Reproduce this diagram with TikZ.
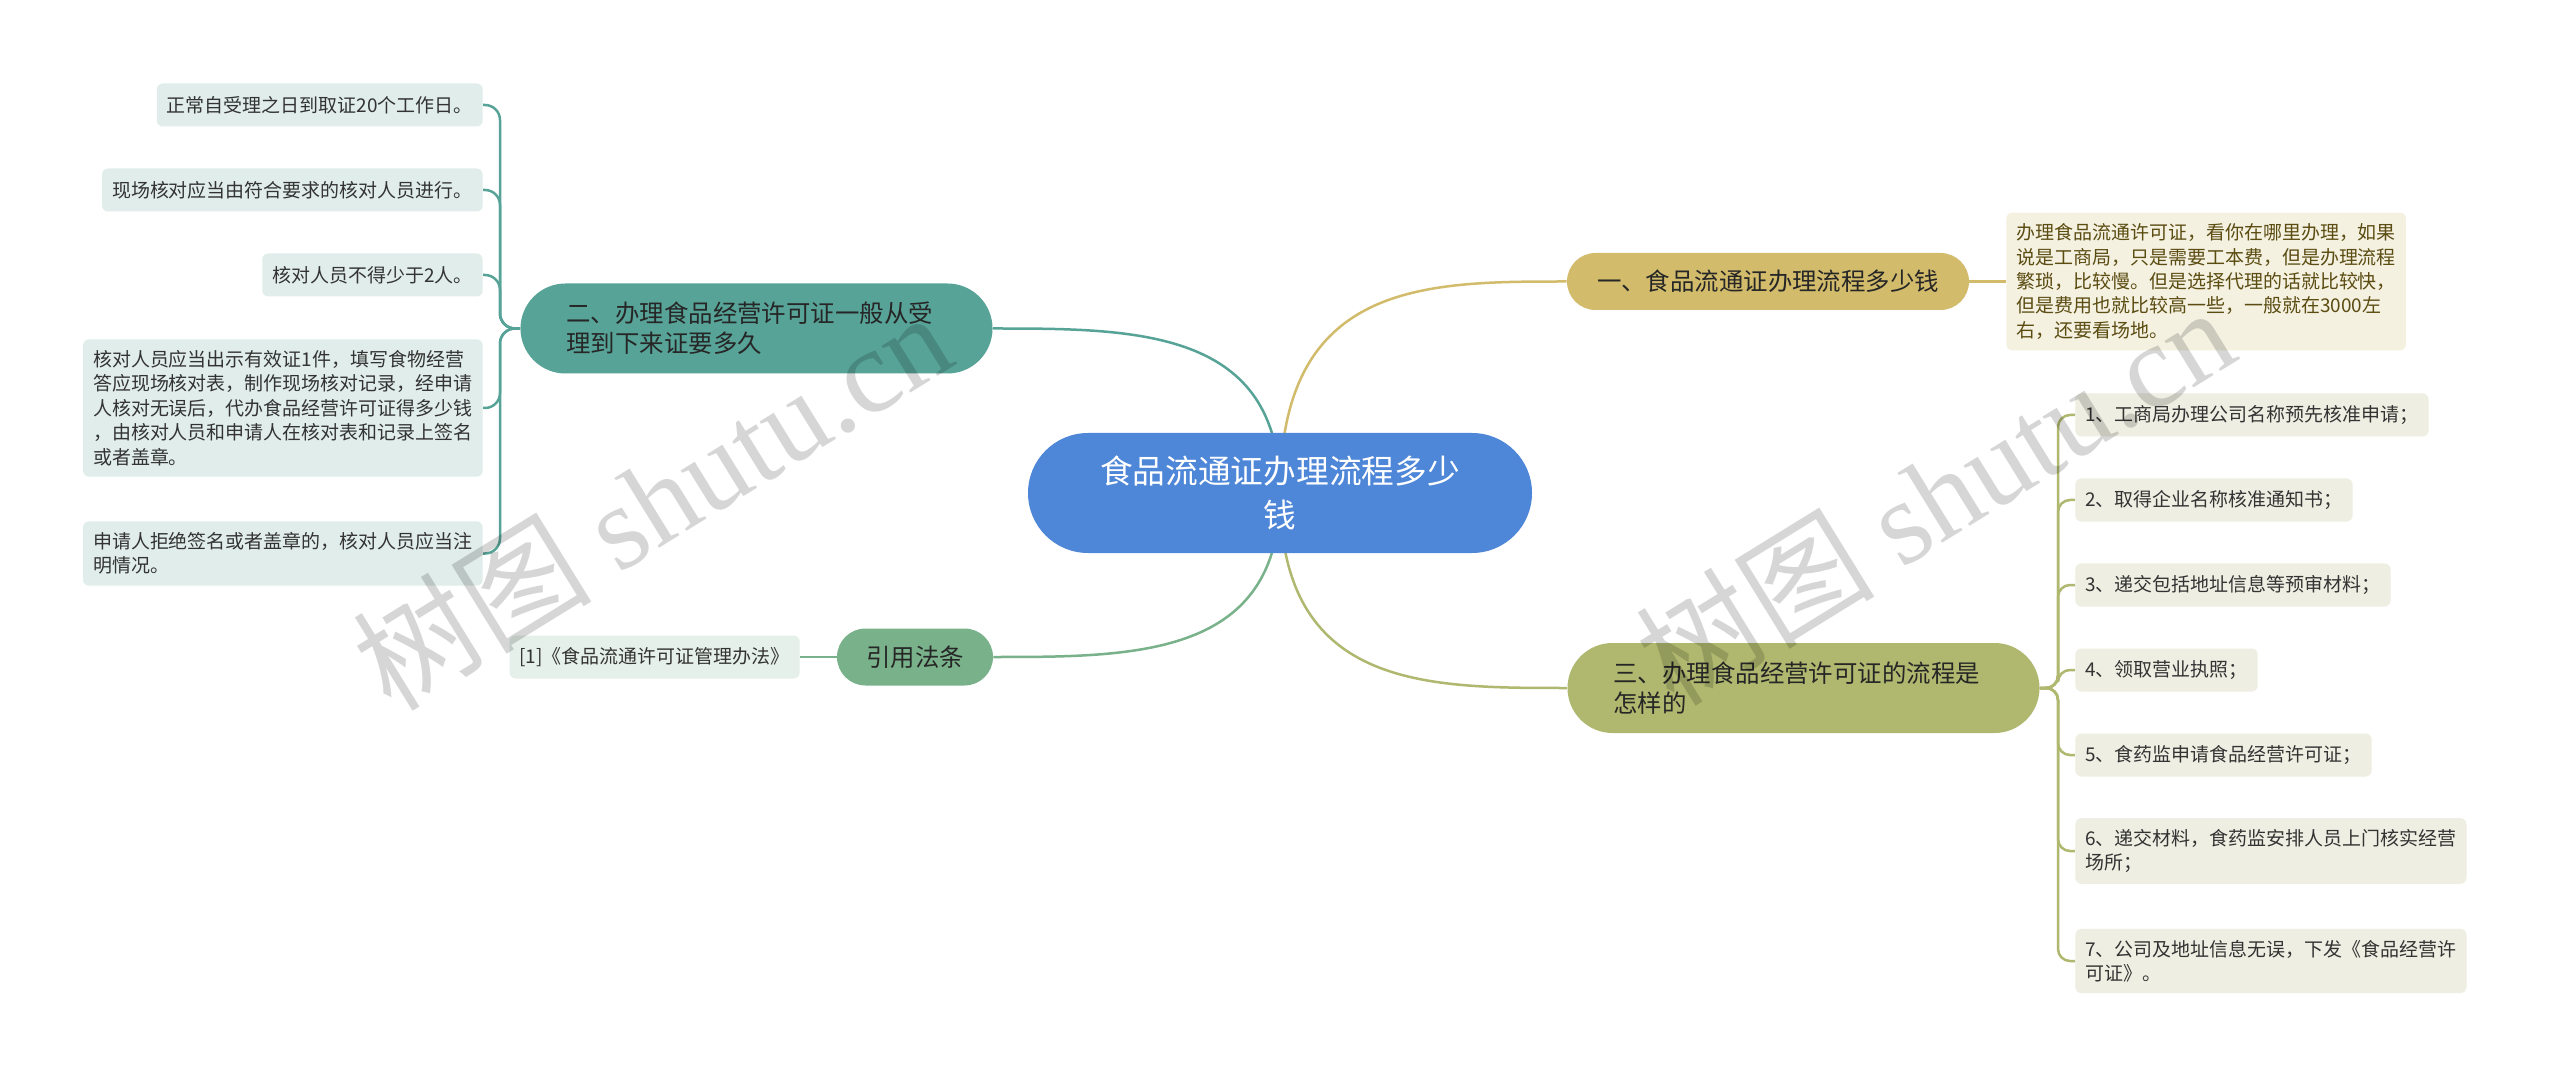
\documentclass[tikz,border=0pt]{standalone}
\usepackage{fontspec}
\setmainfont{Noto Sans CJK SC}
\newfontfamily\wmfont{Liberation Serif}
\usepackage{xcolor}
\usetikzlibrary{calc,backgrounds}

\definecolor{hubblue}{HTML}{4E86D8}
\definecolor{goldtopic}{HTML}{D2BC6C}
\definecolor{tealtopic}{HTML}{57A397}
\definecolor{olivetopic}{HTML}{AFB86E}
\definecolor{reftopic}{HTML}{79B28A}
\definecolor{goldleaf}{HTML}{F4F1E1}
\definecolor{tealleaf}{HTML}{E0EDEA}
\definecolor{oliveleaf}{HTML}{EEEEE2}
\definecolor{refleaf}{HTML}{E6F0EA}
\definecolor{notetext}{HTML}{5B4C12}

\begin{document}
\begin{tikzpicture}[x=0.2mm, y=-0.2mm,
    hub/.style={fill=hubblue, text=white, rounded corners=12mm, minimum width=100.8mm,
                minimum height=24mm, align=center, font=\fontsize{18.6}{25}\selectfont},
    topic/.style={rounded corners=5.7mm, minimum height=11.4mm, align=center, text=black!85,
                  font=\fontsize{13.9}{17.1}\selectfont},
    longtopic/.style={topic, rounded corners=9mm, minimum height=18mm, align=left,
                      text width=76mm, inner xsep=9.2mm},
    leaf/.style={rounded corners=1.2mm, inner xsep=2mm, inner ysep=2.2mm, minimum height=8.6mm,
                 align=left, text=black!80, font=\fontsize{10.8}{13.9}\selectfont},
    wire/.style={line width=0.5mm},
    wm/.style={text=black, text opacity=0.16, font=\fontsize{68}{68}\selectfont},
  ]

  % centre
  \node[hub] (hub) at (1280,493) {食品流通证办理流程多少\\钱};

  % right side
  \node[topic, fill=goldtopic, minimum width=80.4mm] (one) at (1768,281.5) {一、食品流通证办理流程多少钱};
  \node[leaf, fill=goldleaf, text=notetext, anchor=west] (note) at (2006,281.5)
    {办理食品流通许可证，看你在哪里办理，如果\\说是工商局，只是需要工本费，但是办理流程\\繁琐，比较慢。但是选择代理的话就比较快，\\但是费用也就比较高一些，一般就在3000左\\右，还要看场地。};

  \node[longtopic, fill=olivetopic] (three) at (1803.5,688) {三、办理食品经营许可证的流程是\\怎样的};
  \node[leaf, fill=oliveleaf, anchor=west] (o1) at (2075,415) {1、工商局办理公司名称预先核准申请；};
  \node[leaf, fill=oliveleaf, anchor=west] (o2) at (2075,500) {2、取得企业名称核准通知书；};
  \node[leaf, fill=oliveleaf, anchor=west] (o3) at (2075,585) {3、递交包括地址信息等预审材料；};
  \node[leaf, fill=oliveleaf, anchor=west] (o4) at (2075,670) {4、领取营业执照；};
  \node[leaf, fill=oliveleaf, anchor=west] (o5) at (2075,755) {5、食药监申请食品经营许可证；};
  \node[leaf, fill=oliveleaf, anchor=west] (o6) at (2075,851) {6、递交材料，食药监安排人员上门核实经营\\场所；};
  \node[leaf, fill=oliveleaf, anchor=west] (o7) at (2075,961) {7、公司及地址信息无误，下发《食品经营许\\可证》。};

  % left side
  \node[longtopic, fill=tealtopic] (two) at (756.5,328.5) {二、办理食品经营许可证一般从受\\理到下来证要多久};
  \node[leaf, fill=tealleaf, anchor=east] (t1) at (483,105) {正常自受理之日到取证20个工作日。};
  \node[leaf, fill=tealleaf, anchor=east] (t2) at (483,190) {现场核对应当由符合要求的核对人员进行。};
  \node[leaf, fill=tealleaf, anchor=east] (t3) at (483,275) {核对人员不得少于2人。};
  \node[leaf, fill=tealleaf, anchor=east] (t4) at (483,408)
    {核对人员应当出示有效证1件，填写食物经营\\答应现场核对表，制作现场核对记录，经申请\\人核对无误后，代办食品经营许可证得多少钱\\，由核对人员和申请人在核对表和记录上签名\\或者盖章。};
  \node[leaf, fill=tealleaf, anchor=east] (t5) at (483,553.5) {申请人拒绝签名或者盖章的，核对人员应当注\\明情况。};

  \node[topic, fill=reftopic, minimum width=31.2mm] (ref) at (915,657) {引用法条};
  \node[leaf, fill=refleaf, anchor=east] (law) at (800,657) {[1]《食品流通许可证管理办法》};

  \coordinate (tj) at (500,328.5);
  \coordinate (oj) at (2058,688);

  % connectors
  \begin{scope}[on background layer]
    \fill[white] (0,0) rectangle (2560,1077);
    \draw[wire, goldtopic] (hub.center) .. controls (hub.center |- one.west)
      and ($(hub.center |- one.west)!0.5!(one.west)$) .. (one.west);
    \draw[wire, tealtopic] (hub.center) .. controls (hub.center |- two.east)
      and ($(hub.center |- two.east)!0.5!(two.east)$) .. (two.east);
    \draw[wire, olivetopic] (hub.center) .. controls (hub.center |- three.west)
      and ($(hub.center |- three.west)!0.5!(three.west)$) .. (three.west);
    \draw[wire, reftopic] (hub.center) .. controls (hub.center |- ref.east)
      and ($(hub.center |- ref.east)!0.5!(ref.east)$) .. (ref.east);

    \draw[wire, goldtopic] (one) -- (note);
    \draw[wire, reftopic] (ref) -- (law);
    \foreach \n in {t1,t2,t3,t4,t5}
      \draw[wire, tealtopic, rounded corners=3mm] (two.west) -- (tj) |- (\n.east);
    \foreach \n in {o1,o2,o3,o4,o5,o6,o7}
      \draw[wire, olivetopic, rounded corners=2.4mm] (three.east) -- (oj) |- (\n.west);
  \end{scope}

  % watermark
  \node[wm, rotate=31.7] (wmleft) at (652,500) {树图 {\wmfont shutu.cn}};
  \node[wm, rotate=31.7] (wmright) at (1935,495) {树图 {\wmfont shutu.cn}};

  \useasboundingbox (0,0) rectangle (2560,1077);
\end{tikzpicture}
\end{document}
